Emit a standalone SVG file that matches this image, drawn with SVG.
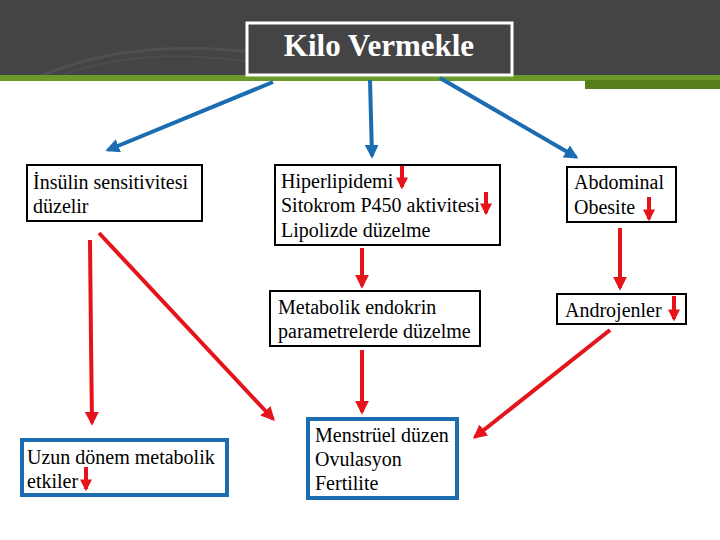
<svg xmlns="http://www.w3.org/2000/svg" width="720" height="540" viewBox="0 0 720 540">
<style>
.box{fill:#fff;stroke:#000;stroke-width:2}
.bbox{fill:#fff;stroke:#1b6cb0;stroke-width:4}
.blue{stroke:#1b6cb0;stroke-width:4;fill:none}
.red{stroke:#e5141b;stroke-width:4;fill:none}
</style>
<defs>
<marker id="bh" viewBox="0 0 10 10" refX="8" refY="5" markerWidth="3.5" markerHeight="3.5" orient="auto" markerUnits="strokeWidth"><path d="M0,0 L10,5 L0,10 z" fill="#1b6cb0"/></marker>
<marker id="rh" viewBox="0 0 10 10" refX="8" refY="5" markerWidth="3.5" markerHeight="3.5" orient="auto" markerUnits="strokeWidth"><path d="M0,0 L10,5 L0,10 z" fill="#e5141b"/></marker>
<marker id="rs" viewBox="0 0 10 10" refX="8" refY="5" markerWidth="3" markerHeight="3.2" orient="auto" markerUnits="strokeWidth"><path d="M0,0 L10,5 L0,10 z" fill="#e5141b"/></marker>
</defs>
<rect width="720" height="540" fill="#fff"/>
<g id="header">
<rect x="0" y="0" width="720" height="76" fill="#444446"/>
<path d="M40,76 Q150,30 300,60" stroke="#4f4f52" stroke-width="3" fill="none"/>
<path d="M60,76 Q160,40 290,70" stroke="#4c4c4f" stroke-width="2" fill="none"/>
<rect x="0" y="75" width="720" height="6" fill="#6b9a2a"/>
<rect x="585" y="80" width="135" height="9" fill="#557d1c"/>
</g>
<g id="title">
<rect x="247" y="23" width="265" height="52" fill="#444446" stroke="#fff" stroke-width="3"/>
<text x="379" y="56" text-anchor="middle" font-family="Liberation Serif, serif" font-size="31" font-weight="bold" fill="#fff">Kilo Vermekle</text>
</g>
<g id="connectors">
<line class="blue" x1="273" y1="82" x2="108" y2="150" marker-end="url(#bh)"/>
<line class="blue" x1="370" y1="80" x2="372" y2="156" marker-end="url(#bh)"/>
<line class="blue" x1="440" y1="78" x2="576" y2="157" marker-end="url(#bh)"/>
<line class="red" x1="362" y1="248" x2="362" y2="286" marker-end="url(#rh)"/>
<line class="red" x1="362" y1="350" x2="362" y2="412" marker-end="url(#rh)"/>
<line class="red" x1="620" y1="228" x2="620" y2="288" marker-end="url(#rh)"/>
<polyline class="red" points="90,240 91,340 92,423" marker-end="url(#rh)"/>
<line class="red" x1="99" y1="233" x2="273" y2="419" marker-end="url(#rh)"/>
<line class="red" x1="610" y1="330" x2="475" y2="437" marker-end="url(#rh)"/>
</g>
<g font-family="Liberation Serif, serif" font-size="20" fill="#000">
<g id="n-insulin">
<rect class="box" x="27" y="165" width="175" height="56"/>
<text x="33" y="189">İnsülin sensitivitesi</text>
<text x="33" y="213">düzelir</text>
</g>
<g id="n-hiper">
<rect class="box" x="275" y="165" width="225" height="80"/>
<text x="281" y="188">Hiperlipidemi</text>
<text x="281" y="212">Sitokrom P450 aktivitesi</text>
<text x="281" y="237">Lipolizde düzelme</text>
<line class="red" x1="402" y1="166" x2="402" y2="187" marker-end="url(#rs)"/>
<line class="red" x1="486" y1="192" x2="486" y2="213" marker-end="url(#rs)"/>
</g>
<g id="n-abdominal">
<rect class="box" x="567" y="167" width="109" height="55"/>
<text x="574" y="189">Abdominal</text>
<text x="574" y="214">Obesite</text>
<line class="red" x1="649" y1="197" x2="649" y2="219" marker-end="url(#rs)"/>
</g>
<g id="n-metabolik">
<rect class="box" x="270" y="291" width="210" height="55"/>
<text x="278" y="314">Metabolik endokrin</text>
<text x="278" y="338">parametrelerde düzelme</text>
</g>
<g id="n-androjen">
<rect class="box" x="557" y="294" width="129" height="30"/>
<text x="565" y="317">Androjenler</text>
<line class="red" x1="674" y1="296" x2="674" y2="319" marker-end="url(#rs)"/>
</g>
<g id="n-uzun">
<rect class="bbox" x="22" y="440" width="205" height="55"/>
<text x="27" y="464">Uzun dönem metabolik</text>
<text x="27" y="488">etkiler</text>
<line class="red" x1="86" y1="467" x2="86" y2="489" marker-end="url(#rs)"/>
</g>
<g id="n-menstruel">
<rect class="bbox" x="308" y="419" width="149" height="79"/>
<text x="315" y="442">Menstrüel düzen</text>
<text x="315" y="466">Ovulasyon</text>
<text x="315" y="490">Fertilite</text>
</g>
</g>
</svg>
